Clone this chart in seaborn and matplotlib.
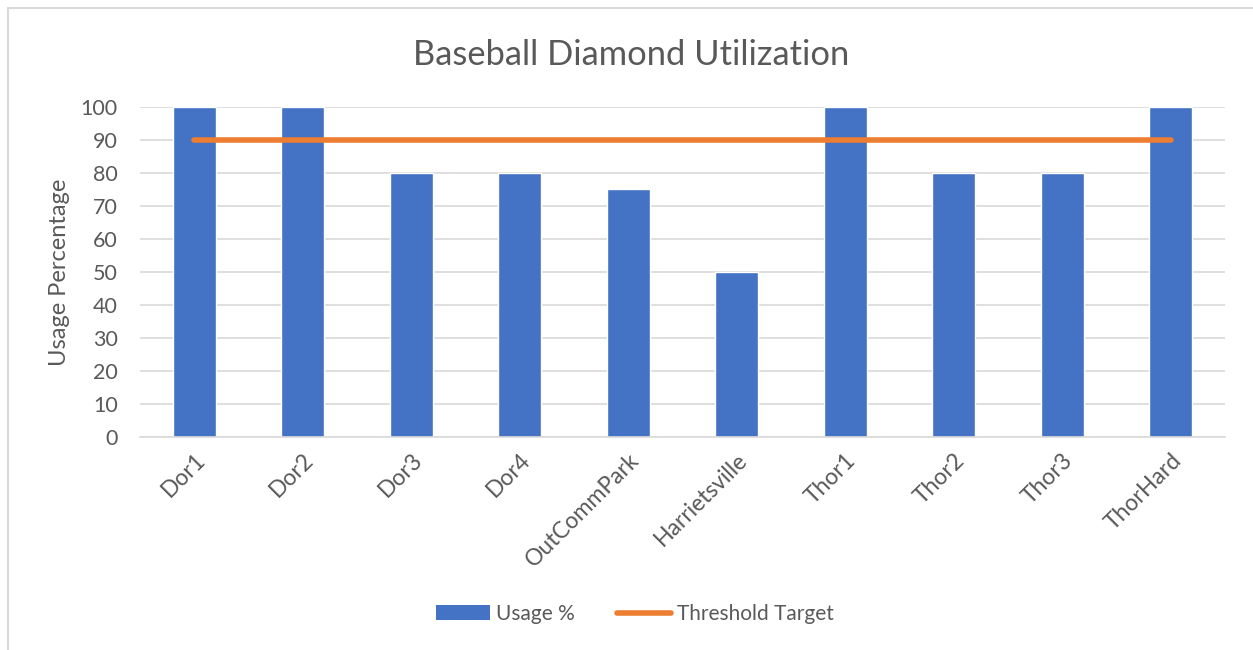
import matplotlib
matplotlib.use("Agg")
import matplotlib.pyplot as plt
import seaborn as sns
import numpy as np
from matplotlib.lines import Line2D
from matplotlib.patches import Patch

categories = ["Dor1", "Dor2", "Dor3", "Dor4", "OutCommPark", "Harrietsville",
              "Thor1", "Thor2", "Thor3", "ThorHard"]
usage = [100, 100, 80, 80, 75, 50, 100, 80, 80, 100]
threshold = [90, 90, 90, 90, 90, 90, 90, 90, 90, 90]
yticks = [0, 10, 20, 30, 40, 50, 60, 70, 80, 90, 100]

sns.set_theme(style="white")
plt.rcParams['font.family'] = ['Lato', 'DejaVu Sans']

W, H = 1253, 650
fig = plt.figure(figsize=(W / 100, H / 100), dpi=100)
ax = fig.add_axes([140 / W, 1 - 437 / H, (1225 - 140) / W, (437 - 107) / H])

bar_color = "#4472C4"
line_color = "#ED7D31"
text_color = "#595959"

sns.barplot(x=categories, y=usage, color=bar_color, width=0.4, saturation=1,
            ax=ax, zorder=2)
ax.plot(np.arange(len(categories)), threshold, color=line_color, lw=4,
        solid_capstyle="round", zorder=3)

ax.set_ylim(0, 100)
ax.set_xlim(-0.5, len(categories) - 0.5)
ax.set_yticks(yticks)
ax.yaxis.grid(True, color="#D9D9D9", lw=1.2, zorder=0)
ax.set_axisbelow(True)
for s in ["top", "right", "left"]:
    ax.spines[s].set_visible(False)
ax.spines["bottom"].set_color("#D9D9D9")
ax.spines["bottom"].set_linewidth(1.2)
ax.tick_params(axis="y", length=0, colors=text_color, labelsize=15.5, pad=16)
ax.tick_params(axis="x", length=0, colors=text_color, labelsize=16.5, pad=9)
plt.setp(ax.get_xticklabels(), rotation=45, ha="right", rotation_mode="anchor")
ax.set_xlabel("")
ax.set_ylabel("Usage Percentage", color=text_color, fontsize=17, labelpad=8)

fig.text(631 / W, 1 - 55 / H, "Baseball Diamond Utilization", ha="center",
         va="center", fontsize=24.8, color=text_color)

handles = [Patch(facecolor=bar_color, edgecolor="none", label="Usage %"),
           Line2D([0], [0], color=line_color, lw=4, solid_capstyle="round",
                  label="Threshold Target")]
fig.legend(handles=handles, loc="center", bbox_to_anchor=(635 / W, 1 - 614 / H),
           ncol=2, frameon=False, fontsize=15, labelcolor=text_color,
           handlelength=2.6, handletextpad=0.3, columnspacing=2.0)

# chart border (left and top visible)
fig.add_artist(Line2D([7.5 / W, 7.5 / W], [0, 1 - 8 / H], color="#D9D9D9",
                      lw=1.5, transform=fig.transFigure))
fig.add_artist(Line2D([7.5 / W, 1], [1 - 8 / H, 1 - 8 / H], color="#D9D9D9",
                      lw=1.5, transform=fig.transFigure))

fig.savefig("out.png", dpi=100, facecolor="white")
